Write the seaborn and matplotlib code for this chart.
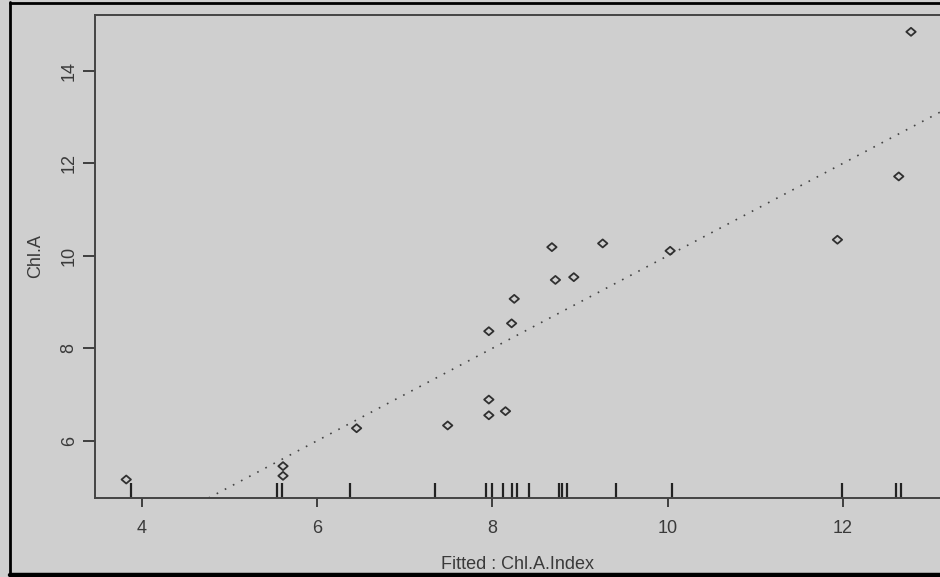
import numpy as np
import pandas as pd
import matplotlib
matplotlib.use("Agg")
import matplotlib.pyplot as plt
import seaborn as sns
from matplotlib.path import Path
from matplotlib.lines import Line2D

# ---- data ----
fitted = [3.82, 5.61, 5.61, 6.45, 7.49, 7.96, 7.96, 8.15, 7.96, 8.22,
          8.25, 8.68, 8.72, 8.93, 9.26, 10.03, 11.94, 12.64, 12.78]
chl_a = [5.16, 5.45, 5.24, 6.27, 6.33, 6.89, 6.55, 6.64, 8.37, 8.54,
         9.07, 10.19, 9.48, 9.54, 10.27, 10.11, 10.35, 11.72, 14.85]
rug_x = [3.88, 5.54, 5.60, 6.37, 7.35, 7.93, 8.00, 8.12, 8.23, 8.28,
         8.42, 8.76, 8.80, 8.85, 9.41, 10.05, 11.99, 12.61, 12.67]
x_ticks = [4, 6, 8, 10, 12]
y_ticks = [6, 8, 10, 12, 14]
x_label = "Fitted : Chl.A.Index"
y_label = "Chl.A"

df = pd.DataFrame({"fitted": fitted, "chl_a": chl_a})

sns.set_theme(style="white")
plt.rcParams["font.family"] = ["Liberation Sans", "DejaVu Sans"]

BG = "#cfcfcf"
INK = "#3a3a3a"
W, H = 940, 577
fig = plt.figure(figsize=(W / 100, H / 100), dpi=100, facecolor=BG)

# axes placement in pixels
left_px, right_px, top_px, bottom_px = 95, 940, 15, 498
ax = fig.add_axes([left_px / W, (H - bottom_px) / H,
                   (right_px - left_px) / W, (bottom_px - top_px) / H])
ax.set_facecolor(BG)

diamond = Path([(-1, 0), (0, -0.85), (1, 0), (0, 0.85), (-1, 0)],
               [Path.MOVETO, Path.LINETO, Path.LINETO, Path.LINETO, Path.CLOSEPOLY])

ax.axline((0, 0), slope=1, color="#444444", lw=1.2,
          linestyle=(0, (1, 4.5)), zorder=1)

sns.scatterplot(data=df, x="fitted", y="chl_a", marker=diamond, s=46,
                facecolor="none", edgecolor="#303030", linewidth=1.3,
                ax=ax, zorder=3)

sns.rugplot(x=rug_x, height=0.031, color="#222222", linewidth=1.6,
            ax=ax, expand_margins=False)

ax.set_xlim(3.4634, 13.111)
ax.set_ylim(4.760, 15.214)
ax.set_xticks(x_ticks)
ax.set_yticks(y_ticks)
ax.set_xticklabels([str(v) for v in x_ticks])
ax.set_yticklabels([str(v) for v in y_ticks], rotation=90, va="center")

for side in ["left", "bottom", "top"]:
    ax.spines[side].set_visible(True)
    ax.spines[side].set_color("#444444")
    ax.spines[side].set_linewidth(1.4)
ax.spines["right"].set_visible(False)

ax.tick_params(axis="both", direction="out", color="#333333", width=1.3,
               labelsize=13, labelcolor=INK)
ax.tick_params(axis="x", length=6.5, pad=9)
ax.tick_params(axis="y", length=8.5, pad=4)
ax.xaxis.set_ticks_position("bottom")
ax.yaxis.set_ticks_position("left")

ax.set_xlabel(x_label, fontsize=13, color=INK, labelpad=14)
ax.set_ylabel(y_label, fontsize=13, color=INK, labelpad=12)

# outer screenshot frame
fig.add_artist(Line2D([10 / W, 10 / W], [0, 1 - 2 / H], transform=fig.transFigure,
                      color="black", lw=2.0))
fig.add_artist(Line2D([10 / W, 1.0], [1 - 3 / H, 1 - 3 / H], transform=fig.transFigure,
                      color="black", lw=2.0))
fig.add_artist(Line2D([10 / W, 1.0], [2 / H, 2 / H], transform=fig.transFigure,
                      color="black", lw=3.2))

fig.savefig("out.png", dpi=100, facecolor=BG)
